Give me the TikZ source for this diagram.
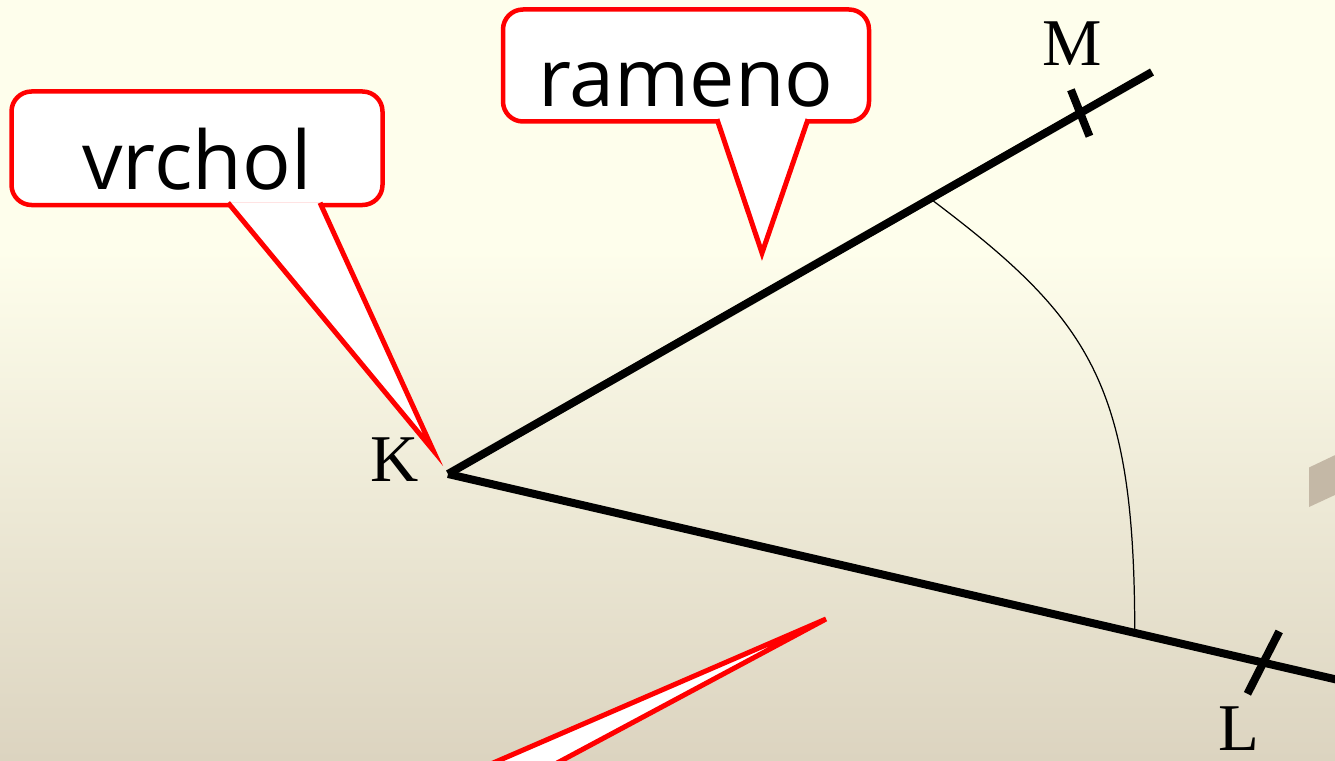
\documentclass[tikz,border=0pt]{standalone}
\usepackage{fontspec}
\setmainfont{Liberation Serif}
\newfontfamily\bubblefont{Open Sans}
\usepackage{tikz}
\usetikzlibrary{calc}
\definecolor{bgtop}{HTML}{FEFEEC}
\definecolor{bgbottom}{HTML}{DCD4C0}
\definecolor{slab}{HTML}{C4B8A6}
\definecolor{bubblered}{HTML}{FF0000}

\begin{document}
\begin{tikzpicture}[
    ray/.style={line width=0.16cm},
    arcline/.style={line width=0.7pt},
    point/.style={font=\fontsize{38}{40}\selectfont, inner sep=0pt},
    bubble/.style={rectangle, rounded corners=0.4cm, fill=white, draw=bubblered,
                   line width=0.09cm, outer sep=0pt, text height=1.74cm, text depth=0.1cm,
                   font=\bubblefont\fontsize{46}{50}\selectfont},
    tail/.style={fill=white, draw=bubblered, line width=0.1cm},
]
    \useasboundingbox (0,0) rectangle (26.7,15.2);
    \clip (0,0) rectangle (26.7,15.2);
    % background
    \fill[bgtop] (0,0) rectangle (26.7,15.2);
    \shade[top color=bgtop, bottom color=bgbottom] (0,0) rectangle (26.7,10.2);
    \fill[slab] (26.18,5.85) -- (27.0,6.24) -- (27.0,5.44) -- (26.18,5.06) -- cycle;

    % angle
    \coordinate (K) at (8.96,5.72);
    \coordinate (M1) at (23.04,13.76);
    \coordinate (L1) at (27.2,1.5);
    \coordinate (tM) at ($(K)!0.898!(M1)$);
    \coordinate (tL) at ($(K)!0.894!(L1)$);
    \coordinate (a1) at ($(K)!0.685!(M1)$);
    \coordinate (a2) at ($(K)!0.753!(L1)$);
    \draw[ray] (K) -- (M1);
    \draw[ray] (K) -- (L1);
    \draw[ray] ($(tM)!0.5cm!82:(M1)$) -- ($(tM)!0.5cm!-98:(M1)$);
    \draw[ray] ($(tL)!0.7cm!76:(L1)$) -- ($(tL)!0.7cm!-104:(L1)$);
    \draw[arcline] (a1) to[out=-37, in=90, out distance=4cm, in distance=5cm] (a2);

    \node[point] (lK) at (7.9,6.0) {K};
    \node[point] (lM) at (21.44,14.32) {M};
    \node[point] (lL) at (24.77,0.62) {L};

    % callouts
    \node[bubble, minimum width=7.42cm, minimum height=2.27cm] (vrchol) at (3.94,12.235) {vrchol};
    \node[bubble, minimum width=7.32cm, minimum height=2.24cm] (rameno) at (13.72,13.89) {rameno};

    \coordinate (vb1) at ($(vrchol.south west)+(4.33,0.045)$);
    \coordinate (vb2) at ($(vrchol.south west)+(6.17,0.045)$);
    \coordinate (vtip) at (8.66,6.2);
    \filldraw[tail] (vb1) -- (vtip) -- (vb2);

    \coordinate (rb1) at ($(rameno.south west)+(4.28,0.045)$);
    \coordinate (rb2) at ($(rameno.south west)+(6.10,0.045)$);
    \coordinate (rtip) at (15.24,10.14);
    \filldraw[tail] (rb1) -- (rtip) -- (rb2);

    \coordinate (p1) at (8.15,-0.8);
    \coordinate (p2) at (9.76,-0.8);
    \coordinate (ptip) at (16.52,2.82);
    \filldraw[tail] (p1) -- (ptip) -- (p2);
\end{tikzpicture}
\end{document}
